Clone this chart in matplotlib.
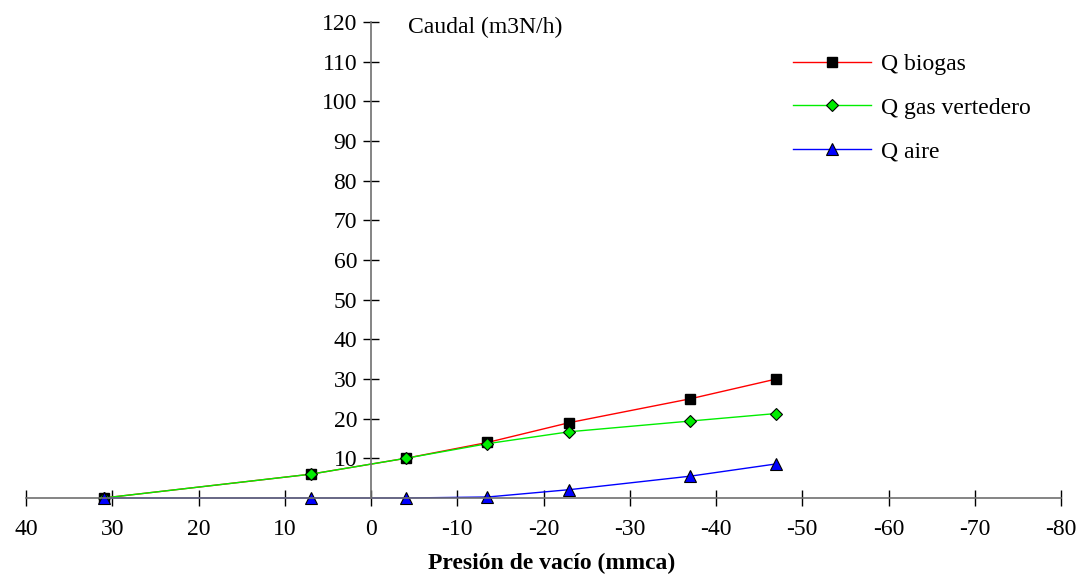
import matplotlib.pyplot as plt

plt.rcParams['font.family'] = ['Liberation Serif', 'DejaVu Serif']
plt.rcParams['axes.unicode_minus'] = False

presion = [31, 7, -4, -13.5, -23, -37, -47]
q_biogas = [0, 6, 10, 14, 19, 25, 30]
q_vertedero = [0, 6, 10, 13.7, 16.7, 19.4, 21.3]
q_aire = [0, 0, 0, 0.25, 2.1, 5.5, 8.6]

x_ticks = list(range(40, -81, -10))
y_ticks = list(range(10, 121, 10))

fig = plt.figure(figsize=(10.9, 5.75), dpi=100)
ax = fig.add_axes([26 / 1090, 1 - 498 / 575, (1061 - 26) / 1090, (498 - 22) / 575])

ax.plot(presion, q_biogas, color='red', lw=1, marker='s', ms=7,
        mfc='black', mec='black', label='Q biogas')
ax.plot(presion, q_vertedero, color='#00ee00', lw=1, marker='D', ms=6,
        mfc='#00ee00', mec='black', mew=0.8, label='Q gas vertedero')
ax.plot(presion, q_aire, color='blue', lw=1, marker='^', ms=8,
        mfc='blue', mec='black', mew=0.8, label='Q aire')

ax.set_xlim(40, -80)
ax.set_ylim(0, 120)
ax.set_xticks(x_ticks)
ax.set_yticks(y_ticks)

ax.spines['left'].set_position(('data', 0))
ax.spines['top'].set_visible(False)
ax.spines['right'].set_visible(False)
for s in ('left', 'bottom'):
    ax.spines[s].set_color('#707070')
    ax.spines[s].set_linewidth(1.2)
    ax.spines[s].set_clip_on(False)

ax.tick_params(axis='both', direction='inout', length=12, width=1,
               labelsize=17, color='black')
ax.tick_params(axis='x', pad=9)
ax.tick_params(axis='y', pad=4)

ax.text(-4.3, 118.6, 'Caudal (m3N/h)', fontsize=17, ha='left', va='center')
ax.set_xlabel('Presión de vacío (mmca)', fontsize=17, fontweight='bold')
ax.xaxis.set_label_coords(0.508, -0.116)

for ln in ax.lines:
    ln.set_clip_on(False)

ax.legend(loc='upper left', bbox_to_anchor=(0.7324, 0.954), frameon=False,
          borderaxespad=0, fontsize=17, handlelength=3.3, handletextpad=0.4,
          labelspacing=0.94)

fig.savefig('out.png', dpi=100)
